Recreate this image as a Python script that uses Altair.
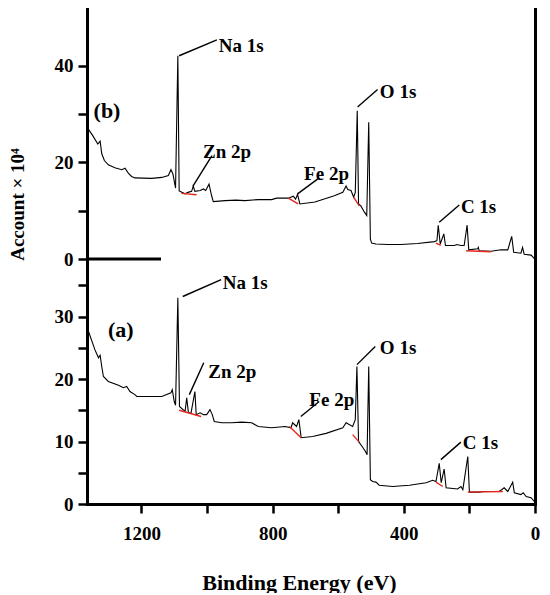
import altair as alt
import pandas as pd

FONT = "Liberation Serif"

# ---------------- spectrum (b) ----------------
energy_b = [1365, 1348, 1333, 1326, 1321, 1313, 1301, 1281, 1260, 1250,
            1240, 1230, 1220, 1169, 1138, 1118, 1110, 1104, 1096, 1089,
            1085, 1067, 1058, 1047, 1042, 1037, 1021, 1011, 1004, 994,
            986, 981, 945, 912, 884, 844, 803, 788, 752, 737,
            730, 724, 717, 671, 612, 586, 576, 571, 561, 553,
            548, 542, 538, 531, 520, 513, 507, 502, 498, 485,
            449, 409, 358, 307, 299, 295, 289, 278, 273, 246,
            238, 226, 216, 207, 202, 175, 173, 170, 134, 104,
            83, 71, 65, 43, 38, 33, 12, 2]
counts_b = [27.2, 25.5, 23.8, 24.4, 21.8, 20.4, 19.5, 18.9, 18.5, 18.8,
            17.8, 17.1, 16.8, 16.7, 16.9, 17.3, 18.5, 17.6, 14.7, 42.1,
            14.1, 13.5, 13.8, 14.0, 15.1, 14.0, 14.2, 14.5, 14.2, 15.5,
            13.1, 11.9, 12.1, 12.2, 12.1, 12.3, 12.3, 12.6, 12.6, 13.0,
            12.4, 13.4, 11.4, 11.8, 13.1, 13.8, 15.1, 14.4, 14.2, 12.8,
            13.8, 30.7, 11.4, 11.0, 9.7, 9.0, 28.3, 4.1, 3.3, 3.1,
            3.0, 3.0, 3.2, 3.6, 3.8, 7.0, 3.1, 5.2, 2.8, 2.8,
            3.0, 2.8, 2.8, 7.0, 1.9, 2.1, 2.4, 1.7, 1.6, 1.9,
            1.9, 4.7, 1.4, 1.2, 2.4, 1.0, 0.8, 0.1]

# ---------------- spectrum (a) ----------------
energy_a = [1364, 1342, 1331, 1326, 1321, 1316, 1301, 1270, 1255, 1245,
            1235, 1220, 1214, 1169, 1138, 1110, 1106, 1100, 1096, 1089,
            1084, 1067, 1062, 1057, 1049, 1037, 1033, 1021, 1011, 1001,
            991, 984, 978, 955, 925, 894, 864, 844, 803, 762,
            744, 739, 727, 720, 713, 678, 637, 586, 576, 556,
            548, 543, 538, 527, 517, 512, 507, 502, 495, 485,
            475, 434, 383, 332, 312, 302, 292, 286, 277, 271,
            236, 226, 220, 205, 200, 170, 159, 109, 94, 83,
            68, 63, 43, 36, 27, 12, 2]
counts_a = [28.0, 24.7, 23.4, 23.8, 22.0, 20.4, 19.6, 19.0, 18.6, 18.8,
            18.0, 17.5, 17.2, 17.2, 17.2, 17.8, 18.3, 16.4, 15.8, 33.0,
            15.6, 14.8, 17.0, 14.7, 14.5, 18.0, 14.3, 14.6, 14.3, 14.3,
            15.1, 14.3, 13.2, 13.0, 13.0, 13.1, 13.0, 12.4, 12.2, 12.4,
            12.2, 13.0, 12.4, 13.5, 10.6, 10.8, 11.3, 12.2, 13.0, 12.4,
            13.5, 22.0, 10.0, 9.2, 8.4, 7.9, 22.0, 3.9, 3.6, 3.5,
            3.0, 2.8, 3.0, 3.4, 3.8, 3.6, 6.5, 3.4, 5.6, 2.6,
            2.4, 2.8, 2.3, 7.6, 1.9, 1.9, 2.0, 2.0, 2.6, 2.0,
            3.5, 1.8, 1.5, 1.8, 1.2, 1.0, 0.4]

# ---------------- fitted backgrounds (red) ----------------
bg_seg = [1, 1, 2, 2, 3, 3, 4, 4, 5, 5]
bg_b_energy = [1078, 1032, 752, 722, 553, 536, 302, 287, 210, 134]
bg_b_counts = [13.6, 13.3, 12.6, 11.4, 12.8, 11.0, 3.3, 2.8, 1.7, 1.5]
bg_a_energy = [1085, 1018, 749, 713, 556, 536, 302, 281, 205, 98]
bg_a_counts = [15.0, 14.0, 12.4, 10.6, 11.1, 9.9, 3.5, 2.8, 1.9, 2.0]

# ---------------- peak labels ----------------
peak_labels = ["Na 1s", "Zn 2p", "Fe 2p", "O 1s", "C 1s"]
b_text_e = [964, 1012, 704, 473, 226]
b_text_v = [44.1, 22.2, 17.6, 34.5, 10.7]
b_lead_e1 = [1085, 1043, 724, 541, 292]
b_lead_v1 = [42.1, 15.1, 13.5, 31.5, 7.6]
b_lead_e2 = [970, 985, 658, 480, 231]
b_lead_v2 = [45.4, 21.4, 16.8, 35.1, 11.2]

a_text_e = [952, 996, 688, 473, 220]
a_text_v = [35.4, 21.2, 16.7, 24.9, 9.7]
a_lead_e1 = [1074, 1054, 714, 543, 287]
a_lead_v1 = [33.2, 17.5, 14.0, 22.3, 7.1]
a_lead_e2 = [957, 1010, 658, 487, 226]
a_lead_v2 = [35.9, 22.6, 16.4, 25.2, 9.9]

tag_b = ["(b)"]
tag_b_e = [1346]
tag_b_v = [30.7]
tag_a = ["(a)"]
tag_a_e = [1302]
tag_a_v = [27.9]

# axis ticks
x_ticks = [0, 200, 400, 600, 800, 1000, 1200]
yb_ticks = [0, 10, 20, 30, 40]
ya_ticks = [0, 5, 10, 15, 20, 25, 30, 35]

X_DOMAIN = [0, 1366]
YB_DOMAIN = [0, 52.4]
YA_DOMAIN = [0, 39.2]

W = 448
HB = 253
HA = 245

xscale = alt.Scale(domain=X_DOMAIN, reverse=True, nice=False, zero=False)
yscale_b = alt.Scale(domain=YB_DOMAIN, nice=False, zero=False)
yscale_a = alt.Scale(domain=YA_DOMAIN, nice=False, zero=False)

x_axis_top = alt.Axis(orient="top", ticks=False, labels=False, title=None)
x_axis_bottom = alt.Axis(
    orient="bottom", values=x_ticks, format="d",
    labelExpr="datum.value % 400 === 0 ? datum.label : ''",
    labelPadding=11,
    title="Binding Energy (eV)", titleFont=FONT, titleFontSize=22,
    titleFontWeight="bold", titleColor="black",
    titleX=212, titleY=85, titleBaseline="alphabetic", titleAlign="center",
)
y_axis_b = alt.Axis(
    orient="left", values=yb_ticks, format="d",
    labelExpr="datum.value % 20 === 0 ? datum.label : ''",
    labelPadding=5,
    title="Account × 10⁴", titleFont=FONT, titleFontSize=19,
    titleFontWeight="bold", titleColor="black",
    titleX=-60, titleY=198, titleAngle=270, titleBaseline="bottom",
    titleAlign="center",
)
y_axis_a = alt.Axis(
    orient="left", values=ya_ticks, format="d",
    labelExpr="datum.value % 10 === 0 ? datum.label : ''",
    labelPadding=5, title=None,
)
right_axis = alt.Axis(orient="right", ticks=False, labels=False, title=None)


def panel(energy, counts, bg_e, bg_v, te, tv, e1, v1, e2, v2, tag, tag_e, tag_v,
          yscale, yaxis, xaxis, height, stub):
    def X(f):
        return alt.X(f, type="quantitative", scale=xscale, axis=xaxis)

    def Y(f, ax=yaxis):
        return alt.Y(f, type="quantitative", scale=yscale, axis=ax)

    spec = pd.DataFrame({"E": energy, "V": counts})
    bg = pd.DataFrame({"E": bg_e, "V": bg_v, "seg": bg_seg})
    ann = pd.DataFrame({"label": peak_labels, "te": te, "tv": tv,
                        "e1": e1, "v1": v1, "e2": e2, "v2": v2})
    tg = pd.DataFrame({"label": tag, "te": tag_e, "tv": tag_v})

    line = alt.Chart(spec).mark_line(color="black", strokeWidth=1.1).encode(
        x=X("E"), y=Y("V"))
    red = alt.Chart(bg).mark_line(color="#e3261f", strokeWidth=1.4).encode(
        x=X("E"), y=Y("V"), detail="seg:N")
    leaders = alt.Chart(ann).mark_rule(color="black", strokeWidth=1.4).encode(
        x=X("e1"), x2="e2", y=Y("v1"), y2="v2")
    texts = alt.Chart(ann).mark_text(
        align="left", baseline="middle", font=FONT, fontSize=19,
        fontWeight="bold", color="black").encode(
        x=X("te"), y=Y("tv"), text="label:N")
    tags = alt.Chart(tg).mark_text(
        align="left", baseline="middle", font=FONT, fontSize=22,
        fontWeight="bold", color="black").encode(
        x=X("te"), y=Y("tv"), text="label:N")
    layers = [line, red, leaders, texts, tags]
    if stub:
        layers.append(
            alt.Chart(pd.DataFrame({"k": [0]})).mark_rule(
                color="black", strokeWidth=3).encode(
                x=alt.value(0), x2=alt.value(74), y=alt.value(height)))
    inner = alt.layer(*layers)
    border = alt.Chart(spec).mark_line(opacity=0).encode(
        x=X("E"), y=Y("V", right_axis))
    return alt.layer(inner, border).resolve_axis(y="independent").properties(
        width=W, height=height)


upper = panel(energy_b, counts_b, bg_b_energy, bg_b_counts,
              b_text_e, b_text_v, b_lead_e1, b_lead_v1, b_lead_e2, b_lead_v2,
              tag_b, tag_b_e, tag_b_v, yscale_b, y_axis_b, x_axis_top, HB, True)
lower = panel(energy_a, counts_a, bg_a_energy, bg_a_counts,
              a_text_e, a_text_v, a_lead_e1, a_lead_v1, a_lead_e2, a_lead_v2,
              tag_a, tag_a_e, tag_a_v, yscale_a, y_axis_a, x_axis_bottom, HA, False)

chart = alt.vconcat(upper, lower, spacing=0, bounds="flush").properties(
    padding={"left": 0, "top": -2, "right": 0, "bottom": 0},
    background="white",
).configure_view(strokeWidth=0).configure_axis(
    domainColor="black", domainWidth=3, domainCap="square",
    tickColor="black", tickWidth=2.5, tickSize=9,
    labelFont=FONT, labelFontSize=19, labelFontWeight="bold",
    labelColor="black", grid=False, labelOverlap=False, labelFlush=False,
)

chart.save("out.html", embed_options={"renderer": "svg", "actions": False})
